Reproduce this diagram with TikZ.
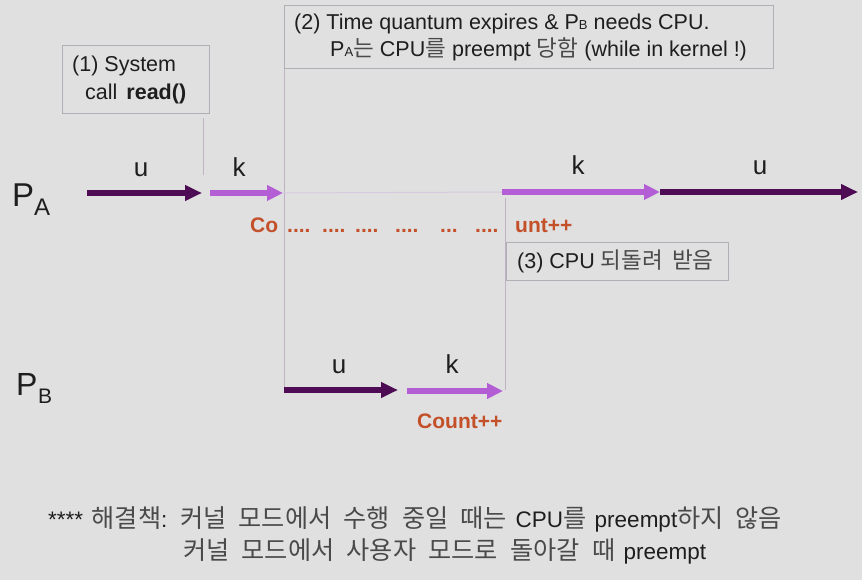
\documentclass[tikz,border=0pt]{standalone}
\usepackage{fontspec}
\setmainfont{Liberation Sans}
\newfontfamily\krfont[Scale=1.05,WordSpace=1.8]{Noto Sans CJK KR}
\newfontfamily\krbfont[Scale=1.12,WordSpace=1.6]{Noto Sans CJK KR}
\usetikzlibrary{arrows.meta}
\definecolor{bg}{HTML}{E0E0E0}
\definecolor{dk}{HTML}{4E0C55}
\definecolor{lt}{HTML}{B45ED6}
\definecolor{rd}{HTML}{C4502A}
\definecolor{ln}{HTML}{BFB2C6}
\definecolor{fl}{HTML}{D6CADE}
\definecolor{bx}{HTML}{B2AEB6}
\definecolor{tx}{HTML}{1E1E1E}
\definecolor{krc}{HTML}{4A4A4A}
\newcommand\kr[1]{{\krfont\color{krc}#1}}
\newcommand\krb[1]{{\krbfont\color{krc}#1}}
\newcommand\fs[1]{\fontsize{#1}{#1}\selectfont}
\begin{document}
\begin{tikzpicture}[x=1pt,y=-1pt,
  lbl/.style={inner sep=0pt, anchor=base, text=tx, font=\fs{26}},
  txt/.style={inner sep=0pt, anchor=base west, text=tx, font=\fs{21.5}},
  btxt/.style={inner sep=0pt, anchor=base west, text=tx, font=\fs{22.5}},
  box/.style={draw=bx, line width=0.8pt, inner sep=0pt, anchor=north west},
  uarr/.style={draw=dk, line width=5.5pt, -{Triangle[length=17pt,width=15pt]}},
  karr/.style={draw=lt, line width=5.5pt, -{Triangle[length=16pt,width=15pt]}},
  vline/.style={draw=ln, line width=0.7pt},
  faint/.style={draw=fl, line width=1pt},
  cnt/.style={inner sep=0pt, anchor=base west, text=rd, font=\bfseries\fs{21}},
]
\fill[bg] (0,0) rectangle (862,580);
\useasboundingbox (0,0) rectangle (862,580);

% boxes
\node[box, minimum width=147pt, minimum height=68pt] (b1) at (62,45) {};
\node[box, minimum width=489pt, minimum height=63pt] (b2) at (284,5) {};
\node[box, minimum width=222pt, minimum height=38pt] (b3) at (506,242) {};

% box texts
\node[txt] (t1a) at (72,72) {(1) System};
\node[txt] (t1b) at (85,100) {call\hspace{9pt}\textbf{read()}};
\node[txt] (t2a) at (294,30) {(2) Time quantum expires \& P{\fs{13}B} needs CPU.};
\node[txt] (t2b) at (330,57) {P{\fs{13}A}\kr{는} CPU\kr{를} preempt \kr{당함} (while in kernel !)};
\node[txt] (t3) at (517,268) {(3) CPU \kr{되돌려 받음}};

% coordinates
\coordinate (v1t) at (203,118);
\coordinate (v1b) at (203,175);
\coordinate (a1s) at (87,193);
\coordinate (a1e) at (202,193);
\coordinate (a2s) at (210,193);
\coordinate (a2e) at (283,193);
\coordinate (a3s) at (502,192);
\coordinate (a3e) at (660,192);
\coordinate (a4s) at (660,192);
\coordinate (a4e) at (858,192);
\coordinate (b1s) at (284,390);
\coordinate (b1e) at (398,390);
\coordinate (b2s) at (407,391);
\coordinate (b2e) at (503,391);
\coordinate (v2t) at (505,198);
\coordinate (v2b) at (505,390);

% thin lines
\draw[vline] (v1t) -- (v1b);
\draw[vline] (b2.south west) -- (b1s);
\draw[vline] (v2t) -- (v2b);
\draw[faint] (a2e) -- (a3s);

% arrows
\draw[uarr] (a1s) -- (a1e);
\draw[karr] (a2s) -- (a2e);
\draw[karr] (a3s) -- (a3e);
\draw[uarr] (a4s) -- (a4e);
\draw[uarr] (b1s) -- (b1e);
\draw[karr] (b2s) -- (b2e);

% arrow labels
\node[lbl] (l1) at (141,177) {u};
\node[lbl] (l2) at (239,177) {k};
\node[lbl] (l3) at (578,175) {k};
\node[lbl] (l4) at (760,175) {u};
\node[lbl] (l5) at (339,373) {u};
\node[lbl] (l6) at (452,373) {k};

% process labels
\node[inner sep=0pt, anchor=base west, text=tx, font=\fs{33}] (pa) at (12,207) {P};
\node[inner sep=0pt, anchor=base west, text=tx, font=\fs{24}] (pas) at (34,215) {A};
\node[inner sep=0pt, anchor=base west, text=tx, font=\fs{32}] (pb) at (16,395) {P};
\node[inner sep=0pt, anchor=base west, text=tx, font=\fs{21}] (pbs) at (38,403) {B};

% count texts
\node[cnt] (co) at (250,233) {Co};
\node[cnt] (d1) at (287,233) {....};
\node[cnt] (d2) at (322,233) {....};
\node[cnt] (d3) at (355,233) {....};
\node[cnt] (d4) at (395,233) {....};
\node[cnt] (d5) at (440,233) {...};
\node[cnt] (d6) at (475,233) {....};
\node[cnt] (unt) at (515,233) {unt++};
\node[cnt] (count) at (417,428) {Count++};

% bottom text
\node[btxt] (n1) at (48,527) {\hbox to 734pt{**** \krb{해결책}: \krb{커널 모드에서 수행 중일 때는} CPU\krb{를} preempt\krb{하지 않음}}};
\node[btxt] (n2) at (183,559) {\hbox to 523pt{\krb{커널 모드에서 사용자 모드로 돌아갈 때} preempt}};
\end{tikzpicture}
\end{document}
